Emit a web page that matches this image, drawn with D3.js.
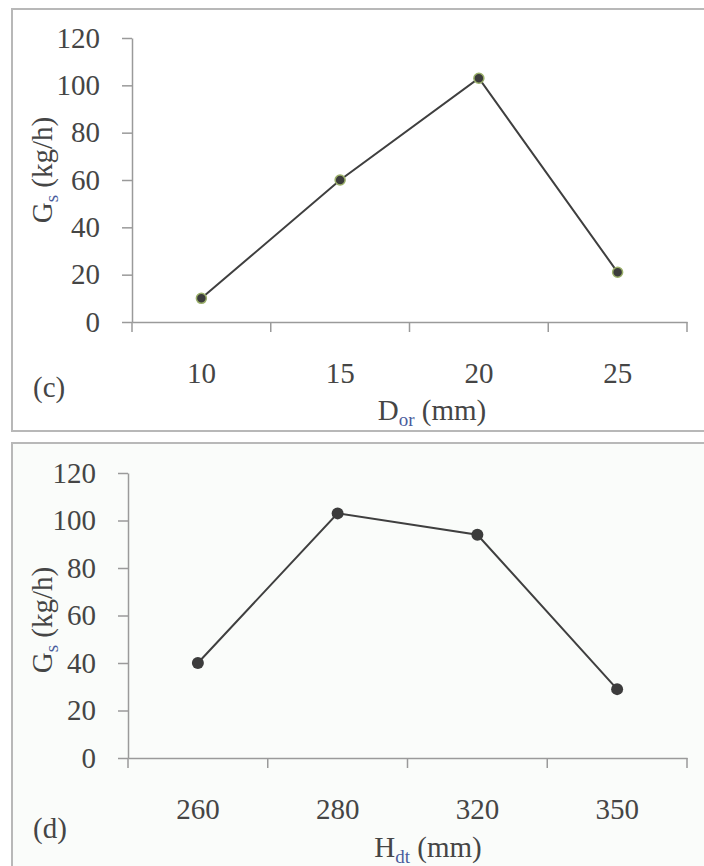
<!DOCTYPE html>
<html lang="en">
<head>
<meta charset="utf-8">
<title>Gs vs Dor and Hdt</title>
<script src="https://d3js.org/d3.v7.min.js"></script>
</head>
<body style="margin:0;background:#fff">
<script>
// data
var dorCategories = ["10", "15", "20", "25"];
var dorValues = [10, 60, 103, 21];
var hdtCategories = ["260", "280", "320", "350"];
var hdtValues = [40, 103, 94, 29];
var yTicks = [0, 20, 40, 60, 80, 100, 120];

var w = 704, h = 866;
var FONT = "'Liberation Serif', 'Times New Roman', serif";
var INK = "#454545";
var svg = d3.select("body").append("svg").attr("width", w).attr("height", h)
  .style("font-family", FONT);

function styleText(sel, size) {
  sel.attr("font-size", size).attr("fill", INK).style("font-family", FONT);
}

function drawPanel(opt) {
  var g = svg.append("g");

  // panel frame
  g.append("rect")
    .attr("x", opt.frame[0]).attr("y", opt.frame[1])
    .attr("width", opt.frame[2]).attr("height", opt.frame[3])
    .attr("fill", opt.bg).attr("stroke", "#b8b8b8").attr("stroke-width", 2);

  var x = d3.scaleBand().domain(opt.cats).range([opt.left, opt.right]).padding(0);
  var y = d3.scaleLinear().domain([0, 120]).range([opt.bottom, opt.top]);

  // y axis
  var yAxis = d3.axisLeft(y).tickValues(yTicks).tickSize(10).tickSizeOuter(0).tickPadding(22);
  var ya = g.append("g").attr("transform", `translate(${opt.left},0)`).call(yAxis);
  ya.attr("font-family", null).attr("font-size", null);
  ya.selectAll("path, line").attr("stroke", "#9a9a9a").attr("stroke-width", 1.5);
  styleText(ya.selectAll("text"), 29);
  // axis line runs a bit below zero, like the category ticks
  g.append("line").attr("x1", opt.left).attr("x2", opt.left)
    .attr("y1", opt.bottom).attr("y2", opt.bottom + 10)
    .attr("stroke", "#9a9a9a").attr("stroke-width", 1.5);

  // x axis (category labels centred in bands, ticks between bands)
  var xAxis = d3.axisBottom(x).tickSize(0).tickSizeOuter(0).tickPadding(40);
  var xa = g.append("g").attr("transform", `translate(0,${opt.bottom})`).call(xAxis);
  xa.attr("font-family", null).attr("font-size", null);
  xa.select("path").attr("stroke", "#9a9a9a").attr("stroke-width", 1.5);
  styleText(xa.selectAll("text"), 29);
  var bounds = opt.cats.slice(1).map(function(c) { return x(c); }).concat([x.range()[1]]);
  g.selectAll("line.xtick").data(bounds).enter().append("line")
    .attr("class", "xtick")
    .attr("x1", function(d) { return d; }).attr("x2", function(d) { return d; })
    .attr("y1", opt.bottom).attr("y2", opt.bottom + 10)
    .attr("stroke", "#9a9a9a").attr("stroke-width", 1.5);

  // series
  var pts = opt.cats.map(function(c, i) { return [x(c) + x.bandwidth() / 2, y(opt.vals[i])]; });
  g.append("path").attr("d", d3.line()(pts))
    .attr("fill", "none").attr("stroke", "#3f3f3f").attr("stroke-width", 2);
  g.selectAll("circle").data(pts).enter().append("circle")
    .attr("cx", function(d) { return d[0]; }).attr("cy", function(d) { return d[1]; })
    .attr("r", opt.dotR).attr("fill", "#3c3c3c")
    .attr("stroke", opt.dotStroke).attr("stroke-width", 1.5);

  // y title
  var yt = g.append("text")
    .attr("transform", `translate(52,${opt.yTitleY}) rotate(-90)`)
    .attr("text-anchor", "middle");
  styleText(yt, 29);
  yt.append("tspan").text("G");
  yt.append("tspan").text("s").attr("font-size", 19).attr("dy", 6).attr("fill", "#4a5c9c");
  yt.append("tspan").text(" (kg/h)").attr("dy", -6);

  // x title
  var xt = g.append("text")
    .attr("x", opt.xTitleX).attr("y", opt.xTitleY)
    .attr("text-anchor", "middle");
  styleText(xt, 29);
  xt.append("tspan").text(opt.xMain);
  xt.append("tspan").text(opt.xSub).attr("font-size", 19).attr("dy", 6).attr("fill", "#4a5c9c");
  xt.append("tspan").text(" (mm)").attr("dy", -6);

  // panel tag
  styleText(g.append("text").attr("x", 33).attr("y", opt.tagY).text(opt.tag), 29);
}

drawPanel({
  frame: [12, 9, 700, 422], bg: "#ffffff",
  cats: dorCategories, vals: dorValues,
  left: 132, right: 687, top: 38, bottom: 322,
  dotR: 5, dotStroke: "#9bb06a",
  yTitleY: 170, xMain: "D", xSub: "or", xTitleX: 432, xTitleY: 420,
  tag: "(c)", tagY: 397
});

drawPanel({
  frame: [12, 443, 700, 440], bg: "#fafcfa",
  cats: hdtCategories, vals: hdtValues,
  left: 128, right: 687, top: 473, bottom: 758,
  dotR: 6, dotStroke: "none",
  yTitleY: 620, xMain: "H", xSub: "dt", xTitleX: 428, xTitleY: 857,
  tag: "(d)", tagY: 838
});
</script>
</body>
</html>
